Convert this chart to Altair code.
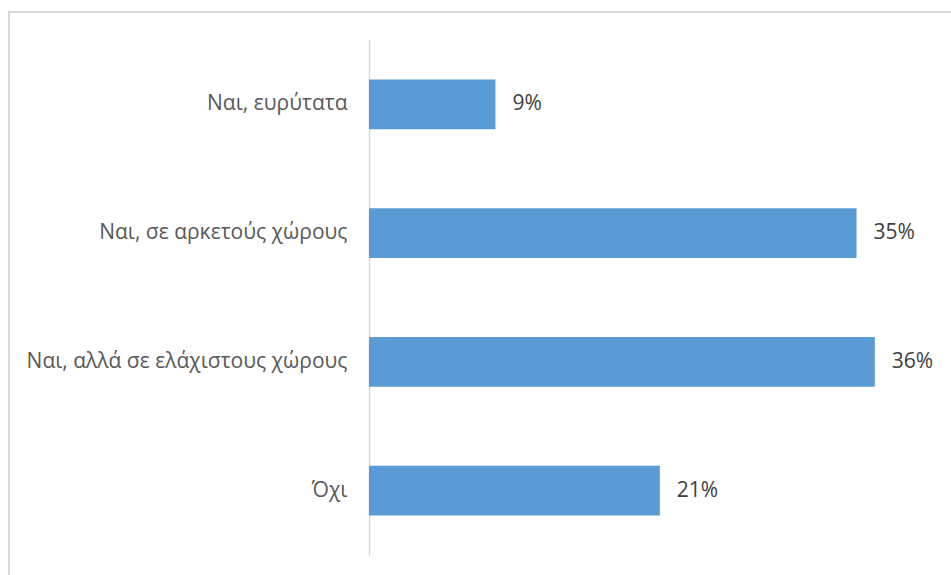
import altair as alt
import pandas as pd

categories = ["Ναι, ευρύτατα", "Ναι, σε αρκετούς χώρους", "Ναι, αλλά σε ελάχιστους χώρους", "Όχι"]
values = [9.0, 34.7, 36.0, 20.7]
labels = ["9%", "35%", "36%", "21%"]

df = pd.DataFrame({"cat": categories, "val": values, "lab": labels})

FONT = "Open Sans"

y_enc = alt.Y("cat:N", sort=categories,
              scale=alt.Scale(paddingInner=0.612, paddingOuter=0.306),
              axis=alt.Axis(title=None, ticks=False, grid=False, domain=True,
                            domainColor="#d9d9d9", domainWidth=1.5,
                            labelColor="#595959", labelFont=FONT, labelFontSize=21,
                            labelPadding=22, labelLimit=400))
x_enc = alt.X("val:Q", scale=alt.Scale(domain=[0, 40]), axis=None)

bars = alt.Chart(df).mark_bar(color="#5B9BD5").encode(x=x_enc, y=y_enc)
text = alt.Chart(df).mark_text(align="left", baseline="middle", dx=17,
                               font=FONT, fontSize=21, color="#404040").encode(
    x=x_enc, y=alt.Y("cat:N", sort=categories), text="lab:N")

frame = alt.Chart(pd.DataFrame({"a": [1]})).mark_rect(
    fill=None, stroke="#d9d9d9", strokeWidth=2).encode(
    x=alt.value(-360), x2=alt.value(660), y=alt.value(-28), y2=alt.value(600))

chart = alt.layer(frame, bars, text).properties(
    width=562, height=515,
    autosize=alt.AutoSizeParams(type="none"),
    padding={"left": 369, "top": 40, "right": 20, "bottom": 20},
    background="white",
).configure_view(stroke=None)

chart.save("out.html", embed_options={"renderer": "svg", "actions": False})
